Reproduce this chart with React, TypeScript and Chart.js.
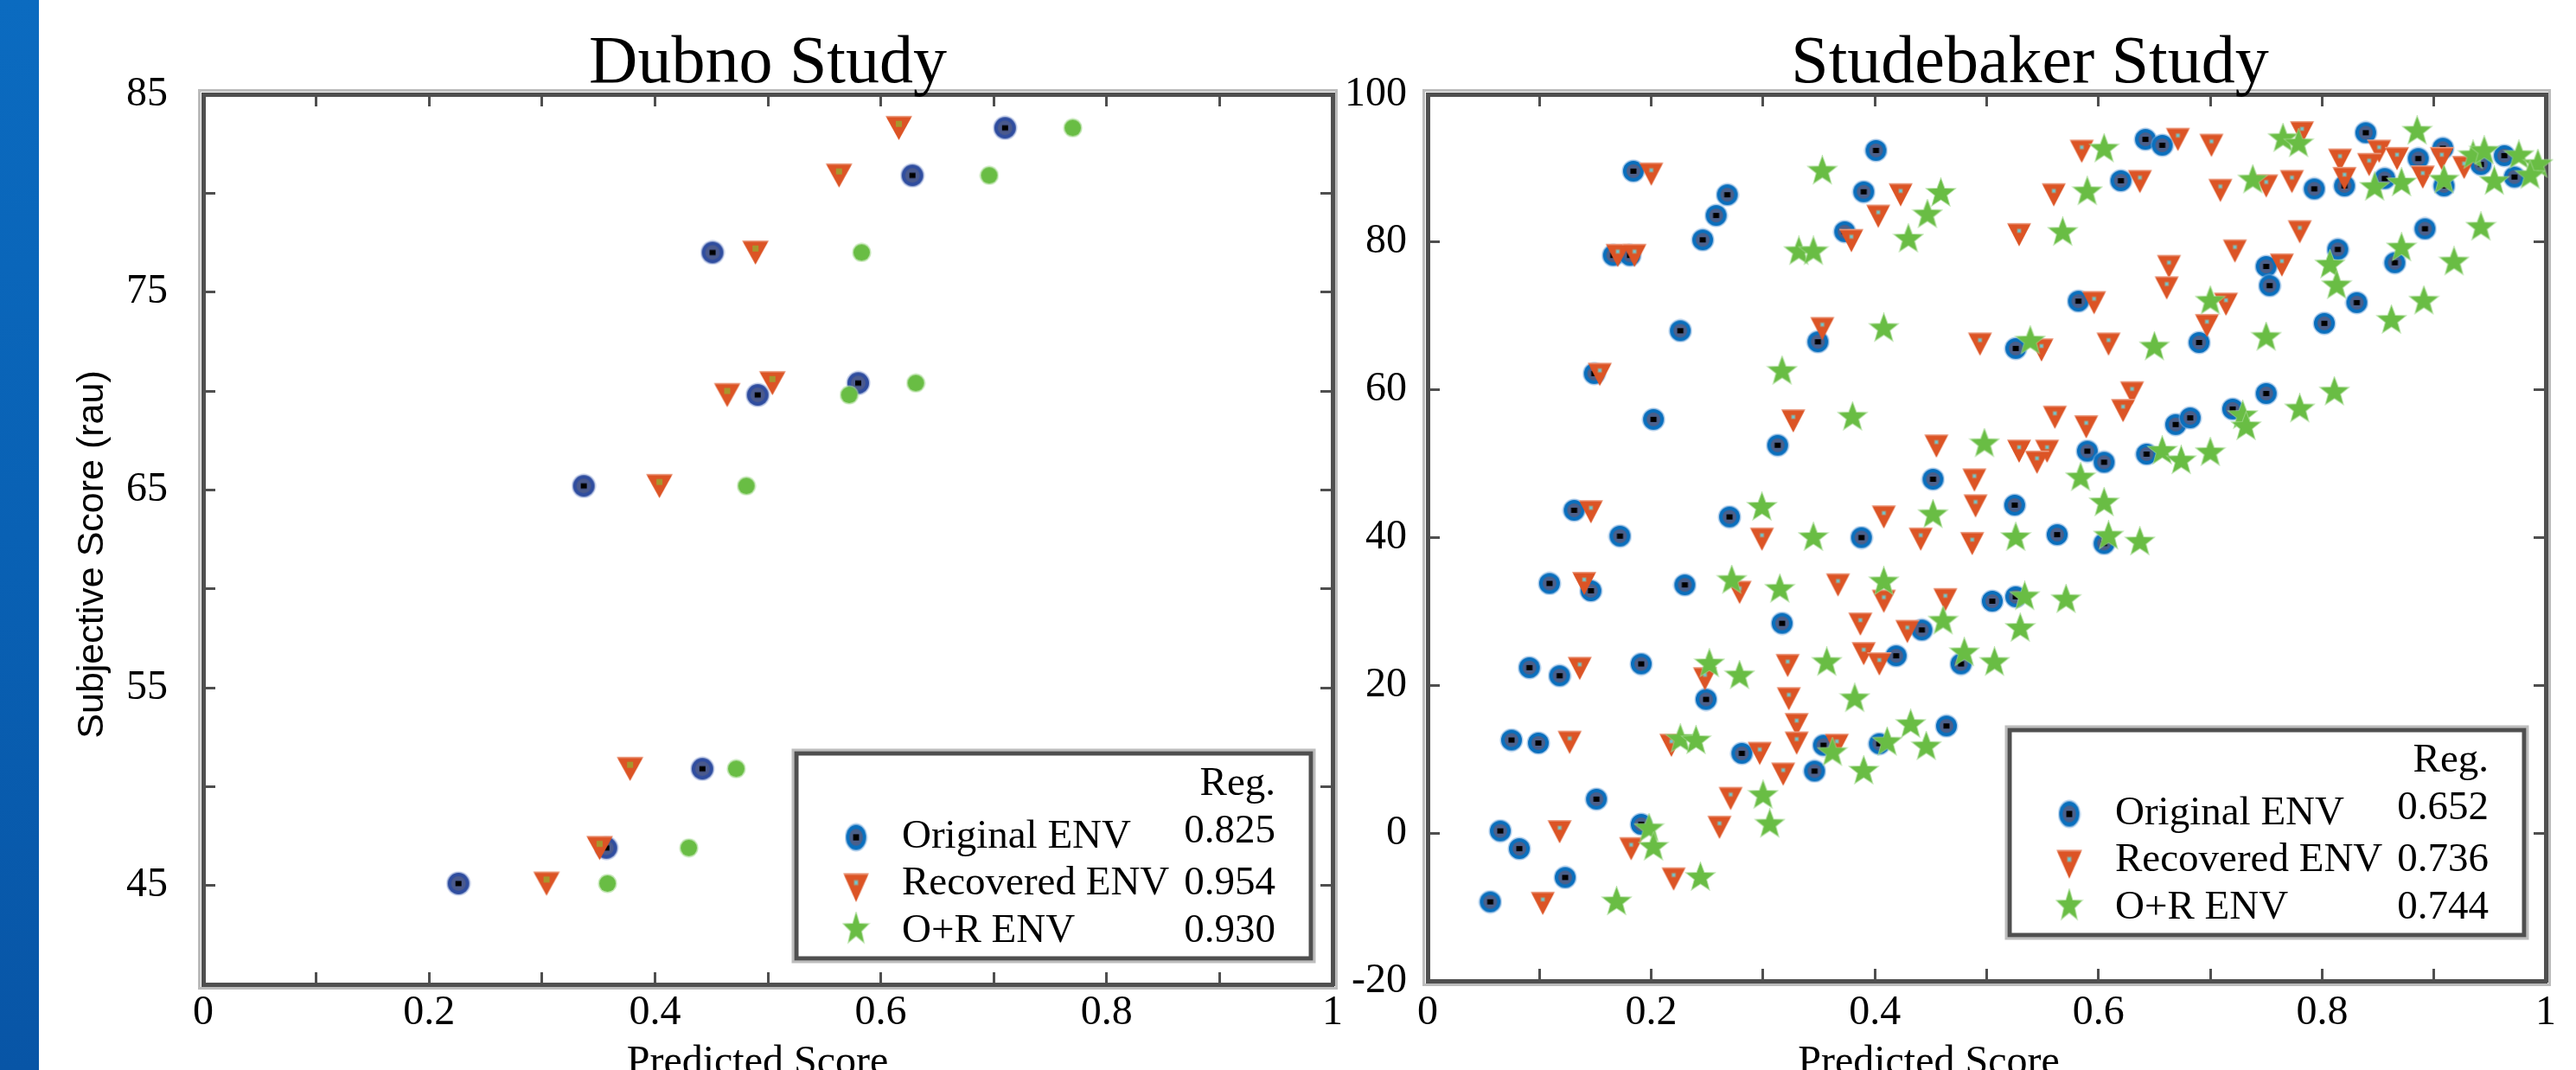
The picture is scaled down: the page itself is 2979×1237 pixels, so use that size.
import React, { useEffect, useRef } from 'react';
import { Chart, registerables } from 'chart.js';

Chart.register(...registerables);

type Pt = [number, number];

// ---------------- data ----------------
const seriesLabels = ['Original ENV', 'Recovered ENV', 'O+R ENV'];
const legendHeader = 'Reg.';
const xTickLabels = ['0', '0.2', '0.4', '0.6', '0.8', '1'];
const xAxisTitle = 'Predicted Score';
const yAxisTitle = 'Subjective Score (rau)';

const dubnoTitle = 'Dubno Study';
const dubnoYTickLabels = [45, 55, 65, 75, 85];
const dubnoReg = ['0.825', '0.954', '0.930'];
const dubnoOriginal: Pt[] = [
  [0.710, 83.3], [0.628, 80.9], [0.451, 77.0], [0.580, 70.4], [0.491, 69.8],
  [0.337, 65.2], [0.442, 50.9], [0.357, 46.9], [0.226, 45.1],
];
const dubnoRecovered: Pt[] = [
  [0.616, 83.3], [0.563, 80.9], [0.489, 77.0], [0.504, 70.4], [0.464, 69.8],
  [0.404, 65.2], [0.378, 50.9], [0.351, 46.9], [0.304, 45.1],
];
const dubnoCombined: Pt[] = [
  [0.770, 83.3], [0.696, 80.9], [0.583, 77.0], [0.631, 70.4], [0.572, 69.8],
  [0.481, 65.2], [0.472, 50.9], [0.430, 46.9], [0.358, 45.1],
];

const studeTitle = 'Studebaker Study';
const studeYTickLabels = [-20, 0, 20, 40, 60, 80, 100];
const studeReg = ['0.652', '0.736', '0.744'];
const studeOriginal: Pt[] = [
  [0.184, 89.6], [0.268, 86.4], [0.258, 83.6], [0.246, 80.3], [0.166, 78.2], [0.181, 78.2],
  [0.226, 68.0], [0.149, 62.2], [0.202, 56.0], [0.313, 52.5], [0.131, 43.7], [0.270, 42.8],
  [0.172, 40.2], [0.401, 92.4], [0.390, 86.8], [0.373, 81.4], [0.642, 93.9], [0.657, 93.1],
  [0.620, 88.3], [0.582, 72.0], [0.349, 66.5], [0.526, 65.6], [0.669, 55.3], [0.682, 56.2],
  [0.590, 51.7], [0.605, 50.2], [0.643, 51.3], [0.452, 47.9], [0.525, 44.4], [0.388, 40.0],
  [0.563, 40.4], [0.605, 39.2], [0.839, 94.8], [0.886, 91.3], [0.908, 92.7], [0.942, 90.5],
  [0.963, 91.7], [0.972, 88.8], [0.793, 87.2], [0.820, 87.6], [0.856, 88.6], [0.909, 87.6],
  [0.892, 81.8], [0.814, 79.0], [0.750, 76.7], [0.753, 74.1], [0.865, 77.2], [0.831, 71.8],
  [0.690, 66.4], [0.802, 69.0], [0.750, 59.5], [0.720, 57.4], [0.109, 33.8], [0.146, 32.8],
  [0.230, 33.6], [0.317, 28.4], [0.091, 22.4], [0.118, 21.3], [0.191, 22.9], [0.249, 18.1],
  [0.075, 12.6], [0.099, 12.2], [0.281, 10.8], [0.151, 4.6], [0.065, 0.3], [0.191, 1.2],
  [0.082, -2.1], [0.123, -6.0], [0.056, -9.3], [0.505, 31.4], [0.526, 32.0], [0.442, 27.5],
  [0.419, 24.0], [0.477, 22.9], [0.464, 14.5], [0.354, 11.9], [0.404, 12.1], [0.346, 8.4],
];
const studeRecovered: Pt[] = [
  [0.200, 89.2], [0.170, 78.2], [0.185, 78.2], [0.154, 62.1], [0.327, 55.8], [0.146, 43.5],
  [0.299, 39.8], [0.423, 86.4], [0.403, 83.5], [0.379, 80.2], [0.585, 92.3], [0.671, 93.9],
  [0.560, 86.4], [0.637, 88.2], [0.529, 81.0], [0.663, 76.7], [0.661, 73.8], [0.596, 71.8],
  [0.353, 68.3], [0.494, 66.2], [0.549, 65.4], [0.609, 66.2], [0.630, 59.6], [0.622, 57.2],
  [0.561, 56.3], [0.589, 55.0], [0.455, 52.4], [0.529, 51.7], [0.554, 51.7], [0.545, 50.2],
  [0.489, 47.8], [0.490, 44.3], [0.408, 42.8], [0.441, 39.8], [0.487, 39.2], [0.701, 93.1],
  [0.782, 94.8], [0.816, 91.1], [0.851, 92.3], [0.842, 90.5], [0.867, 91.3], [0.907, 91.3],
  [0.927, 90.1], [0.709, 87.0], [0.750, 87.6], [0.773, 88.2], [0.820, 88.6], [0.890, 88.8],
  [0.780, 81.4], [0.722, 78.8], [0.764, 76.9], [0.714, 71.6], [0.697, 68.7], [0.140, 33.8],
  [0.279, 32.6], [0.136, 22.3], [0.248, 20.9], [0.322, 22.7], [0.323, 18.2], [0.330, 14.7],
  [0.330, 12.2], [0.127, 12.3], [0.218, 11.9], [0.297, 10.8], [0.318, 8.0], [0.271, 4.7],
  [0.118, 0.2], [0.182, -2.1], [0.261, 0.8], [0.220, -6.2], [0.103, -9.5], [0.367, 33.6],
  [0.408, 31.4], [0.463, 31.6], [0.387, 28.3], [0.429, 27.3], [0.390, 24.3], [0.404, 22.9],
  [0.366, 11.9],
];
const studeCombined: Pt[] = [
  [0.332, 78.7], [0.345, 78.7], [0.317, 62.5], [0.299, 44.1], [0.345, 40.0], [0.353, 89.6],
  [0.459, 86.6], [0.447, 83.7], [0.430, 80.4], [0.605, 92.6], [0.590, 86.8], [0.568, 81.3],
  [0.408, 68.3], [0.539, 66.6], [0.650, 65.8], [0.380, 56.3], [0.498, 52.7], [0.657, 51.7],
  [0.674, 50.4], [0.700, 51.5], [0.584, 48.1], [0.605, 44.7], [0.452, 43.1], [0.526, 40.0],
  [0.609, 40.2], [0.637, 39.4], [0.765, 94.0], [0.779, 93.3], [0.885, 95.0], [0.935, 91.7],
  [0.945, 92.3], [0.976, 91.7], [0.993, 90.5], [0.986, 89.0], [0.954, 88.2], [0.738, 88.4],
  [0.847, 87.4], [0.871, 88.0], [0.909, 88.4], [0.942, 82.0], [0.871, 79.2], [0.807, 76.9],
  [0.918, 77.3], [0.813, 74.1], [0.700, 72.0], [0.891, 72.0], [0.862, 69.4], [0.750, 67.1],
  [0.811, 59.7], [0.729, 56.5], [0.732, 55.0], [0.780, 57.4], [0.272, 34.2], [0.315, 33.0],
  [0.252, 22.9], [0.279, 21.3], [0.226, 12.7], [0.240, 12.5], [0.300, 5.1], [0.198, 0.6],
  [0.202, -1.9], [0.306, 1.2], [0.244, -6.0], [0.169, -9.3], [0.408, 34.0], [0.534, 32.0],
  [0.571, 31.6], [0.461, 28.7], [0.530, 27.7], [0.357, 23.1], [0.480, 24.4], [0.507, 23.1],
  [0.382, 18.2], [0.432, 14.7], [0.362, 10.9], [0.411, 12.3], [0.446, 11.7], [0.390, 8.4],
];

// ---------------- styling ----------------
const SERIF = '"Liberation Serif", "Times New Roman", serif';
const SANS = '"Liberation Sans", Arial, sans-serif';
const FRAME = '#4f4f4f';
const PAGE_H = 1237;

function makeCircle(d: number, ring: string, inner: string, halo: string): HTMLCanvasElement {
  const s = Math.ceil(d + 4);
  const c = document.createElement('canvas');
  c.width = s;
  c.height = s;
  const g = c.getContext('2d') as CanvasRenderingContext2D;
  const m = s / 2;
  const disc = (r: number, col: string) => {
    g.fillStyle = col;
    g.beginPath();
    g.arc(m, m, r, 0, Math.PI * 2);
    g.fill();
  };
  disc(d / 2 + 1.5, halo);
  disc(d / 2, ring);
  disc(d / 2 - 4, inner);
  g.fillStyle = '#000';
  g.fillRect(m - 3.5, m - 3, 7, 6);
  return c;
}

function makeTriangle(w: number, h: number, fill: string, dot: string, core: string, dotSize: number): HTMLCanvasElement {
  const c = document.createElement('canvas');
  c.width = w + 2;
  c.height = h + 2;
  const g = c.getContext('2d') as CanvasRenderingContext2D;
  g.fillStyle = fill;
  g.beginPath();
  g.moveTo(1, 1);
  g.lineTo(w + 1, 1);
  g.lineTo(w / 2 + 1, h + 1);
  g.closePath();
  g.fill();
  g.fillStyle = 'rgba(255,255,255,0.45)';
  g.fillRect(1, 1, w, 1.5);
  const cx = w / 2 + 1;
  const cy = 1 + h / 3;
  g.fillStyle = dot;
  g.fillRect(cx - dotSize / 2, cy - dotSize / 2, dotSize, dotSize);
  g.fillStyle = core;
  g.fillRect(cx - 1.5, cy - 1.5, 3, 3);
  return c;
}

function makeStar(R: number, fill: string, halo: string): HTMLCanvasElement {
  const s = Math.ceil(2 * R + 4);
  const c = document.createElement('canvas');
  c.width = s;
  c.height = s;
  const g = c.getContext('2d') as CanvasRenderingContext2D;
  const m = s / 2;
  const r = R * 0.42;
  g.beginPath();
  for (let k = 0; k < 10; k++) {
    const a = -Math.PI / 2 + (k * Math.PI) / 5;
    const rad = k % 2 === 0 ? R : r;
    const px = m + rad * Math.cos(a);
    const py = m + rad * Math.sin(a);
    if (k === 0) g.moveTo(px, py);
    else g.lineTo(px, py);
  }
  g.closePath();
  g.strokeStyle = halo;
  g.lineWidth = 2;
  g.stroke();
  g.fillStyle = fill;
  g.fill();
  return c;
}

function makeDot(d: number, fill: string, halo: string): HTMLCanvasElement {
  const s = Math.ceil(d + 4);
  const c = document.createElement('canvas');
  c.width = s;
  c.height = s;
  const g = c.getContext('2d') as CanvasRenderingContext2D;
  const m = s / 2;
  g.fillStyle = halo;
  g.beginPath();
  g.arc(m, m, d / 2 + 1.5, 0, Math.PI * 2);
  g.fill();
  g.fillStyle = fill;
  g.beginPath();
  g.arc(m, m, d / 2, 0, Math.PI * 2);
  g.fill();
  return c;
}

interface PanelSpec {
  title: string;
  yMin: number;
  yMax: number;
  yStep: number;
  yLabels: number[];
  series: Pt[][];
  reg: string[];
  style: 'dubno' | 'stude';
  canvasLeft: number;
  canvasWidth: number;
  yAxisWidth: number;
  padRight: number;
  padTop: number;
  xAxisHeight: number;
  yLabelPad: number;
  xLabelPad: number;
  titleDx: number;
  xTitleDx: number;
  yTitle?: string;
  yTitlePos?: [number, number];
  legendRight: number;
  legendBottom: number;
}

const dubnoSpec: PanelSpec = {
  title: dubnoTitle,
  yMin: 40,
  yMax: 85,
  yStep: 5,
  yLabels: dubnoYTickLabels,
  series: [dubnoOriginal, dubnoRecovered, dubnoCombined],
  reg: dubnoReg,
  style: 'dubno',
  canvasLeft: 45,
  canvasWidth: 1545,
  yAxisWidth: 190,
  padRight: 49,
  padTop: 109,
  xAxisHeight: 99,
  yLabelPad: 55,
  xLabelPad: 19,
  titleDx: 0,
  xTitleDx: -12,
  yTitle: yAxisTitle,
  yTitlePos: [62, 641],
  legendRight: 25,
  legendBottom: 30,
};

const studeSpec: PanelSpec = {
  title: studeTitle,
  yMin: -20,
  yMax: 100,
  yStep: 20,
  yLabels: studeYTickLabels,
  series: [studeOriginal, studeRecovered, studeCombined],
  reg: studeReg,
  style: 'stude',
  canvasLeft: 1540,
  canvasWidth: 1439,
  yAxisWidth: 111,
  padRight: 23,
  padTop: 109,
  xAxisHeight: 103,
  yLabelPad: 38,
  xLabelPad: 23,
  titleDx: 50,
  xTitleDx: -67,
  legendRight: 25,
  legendBottom: 53,
};

function buildConfig(spec: PanelSpec): any {
  const studeMarkers = [
    makeCircle(24, '#0a6fbd', '#4b5f8a', 'rgba(120,170,220,0.6)'),
    makeTriangle(28, 27, '#dc5425', '#a6977a', '#6ccad8', 5),
    makeStar(16.5, '#69bd44', 'rgba(160,215,140,0.8)'),
  ];
  const dubnoMarkers = [
    makeCircle(25, '#2f4d9f', '#4a5a8e', 'rgba(140,160,210,0.6)'),
    makeTriangle(31, 28, '#dc5425', '#a8962e', '#a8962e', 7),
    makeDot(19, '#69bd44', 'rgba(170,220,150,0.7)'),
  ];
  const markers = spec.style === 'dubno' ? dubnoMarkers : studeMarkers;
  const legendMarkers = studeMarkers;
  const legendSizes: [number, number][] = [[27, 34], [32, 36], [33, 41]];

  const tickFont = { family: SERIF, size: 48 };
  const gridOpts = {
    display: true,
    drawOnChartArea: false,
    drawTicks: true,
    tickLength: -14,
    tickWidth: 3,
    tickColor: FRAME,
    color: FRAME,
    lineWidth: 3,
  };
  const borderOpts = { display: true, color: FRAME, width: 5 };

  const decor = {
    id: 'decor_' + spec.style,
    beforeDraw(chart: any) {
      const { ctx, chartArea: a } = chart;
      ctx.save();
      ctx.strokeStyle = '#bcbcbc';
      ctx.lineWidth = 3;
      ctx.strokeRect(a.left - 4.5, a.top - 4.5, a.right - a.left + 9, a.bottom - a.top + 9);
      ctx.restore();
    },
    afterDraw(chart: any) {
      const { ctx, chartArea: a } = chart;
      const cx = (a.left + a.right) / 2;
      ctx.save();
      ctx.fillStyle = '#000';
      // panel title
      ctx.font = `78px ${SERIF}`;
      ctx.textAlign = 'center';
      ctx.textBaseline = 'alphabetic';
      ctx.fillText(spec.title, cx + spec.titleDx, 95);
      // x axis title
      ctx.font = `48px ${SERIF}`;
      ctx.fillText(xAxisTitle, cx + spec.xTitleDx, 1242);
      // y axis title
      if (spec.yTitle && spec.yTitlePos) {
        ctx.save();
        ctx.translate(spec.yTitlePos[0], spec.yTitlePos[1]);
        ctx.rotate(-Math.PI / 2);
        ctx.font = `43px ${SANS}`;
        ctx.textAlign = 'center';
        ctx.textBaseline = 'middle';
        ctx.fillText(spec.yTitle, 0, 0);
        ctx.restore();
      }
      // legend box
      const W = 595;
      const H = 237;
      const L = a.right - spec.legendRight - W;
      const T = a.bottom - spec.legendBottom - H;
      ctx.fillStyle = '#fff';
      ctx.fillRect(L, T, W, H);
      ctx.strokeStyle = '#bdbdbd';
      ctx.lineWidth = 3;
      ctx.strokeRect(L - 4, T - 4, W + 8, H + 8);
      ctx.strokeStyle = FRAME;
      ctx.lineWidth = 5;
      ctx.strokeRect(L, T, W, H);
      ctx.fillStyle = '#000';
      ctx.font = `47px ${SERIF}`;
      ctx.textBaseline = 'alphabetic';
      ctx.textAlign = 'right';
      ctx.fillText(legendHeader, L + 554, T + 48);
      const markerY = [97, 155, 203];
      const labelY = [109, 163, 218];
      const valueY = [103, 163, 218];
      chart.data.datasets.forEach((ds: any, i: number) => {
        const [w, h] = legendSizes[i];
        ctx.drawImage(legendMarkers[i], L + 69 - w / 2, T + markerY[i] - h / 2, w, h);
        ctx.textAlign = 'left';
        ctx.fillText(ds.label, L + 122, T + labelY[i]);
        ctx.textAlign = 'right';
        ctx.fillText(spec.reg[i], L + 554, T + valueY[i]);
      });
      ctx.restore();
    },
  };

  return {
    type: 'scatter',
    data: {
      datasets: spec.series.map((pts, i) => ({
        label: seriesLabels[i],
        data: pts.map(([x, y]) => ({ x, y })),
        pointStyle: markers[i],
        pointRadius: 12,
        pointHoverRadius: 12,
        showLine: false,
        clip: false,
        order: 3 - i,
      })),
    },
    options: {
      responsive: false,
      maintainAspectRatio: false,
      devicePixelRatio: 1,
      animation: false,
      events: [],
      layout: { padding: { left: 0, right: spec.padRight, top: spec.padTop, bottom: 0 } },
      plugins: {
        legend: { display: false },
        tooltip: { enabled: false },
        title: { display: false },
      },
      scales: {
        x: {
          type: 'linear',
          position: 'bottom',
          min: 0,
          max: 1,
          ticks: {
            stepSize: 0.1,
            autoSkip: false,
            maxRotation: 0,
            minRotation: 0,
            padding: spec.xLabelPad,
            color: '#000',
            font: tickFont,
            callback: (v: any) => {
              const k = Math.round(Number(v) * 10);
              return k % 2 === 0 ? xTickLabels[k / 2] : '';
            },
          },
          grid: gridOpts,
          border: borderOpts,
          afterFit: (s: any) => {
            s.height = spec.xAxisHeight;
          },
        },
        x2: {
          type: 'linear',
          position: 'top',
          min: 0,
          max: 1,
          ticks: { display: false, stepSize: 0.1, autoSkip: false },
          grid: gridOpts,
          border: borderOpts,
          afterFit: (s: any) => {
            s.height = 0;
          },
        },
        y: {
          type: 'linear',
          position: 'left',
          min: spec.yMin,
          max: spec.yMax,
          ticks: {
            stepSize: spec.yStep,
            autoSkip: false,
            padding: spec.yLabelPad,
            color: '#000',
            font: tickFont,
            callback: (v: any) => {
              const n = Math.round(Number(v));
              return spec.yLabels.includes(n) ? String(n) : '';
            },
          },
          grid: gridOpts,
          border: borderOpts,
          afterFit: (s: any) => {
            s.width = spec.yAxisWidth;
          },
        },
        y2: {
          type: 'linear',
          position: 'right',
          min: spec.yMin,
          max: spec.yMax,
          ticks: { display: false, stepSize: spec.yStep, autoSkip: false },
          grid: gridOpts,
          border: borderOpts,
          afterFit: (s: any) => {
            s.width = 0;
          },
        },
      },
    },
    plugins: [decor],
  };
}

function Panel({ spec }: { spec: PanelSpec }) {
  const ref = useRef<HTMLCanvasElement | null>(null);
  useEffect(() => {
    if (!ref.current) return;
    const chart = new Chart(ref.current, buildConfig(spec));
    return () => chart.destroy();
  }, [spec]);
  return (
    <canvas
      ref={ref}
      width={spec.canvasWidth}
      height={PAGE_H}
      style={{
        position: 'absolute',
        left: spec.canvasLeft,
        top: 0,
        width: spec.canvasWidth,
        height: PAGE_H,
        display: 'block',
      }}
    />
  );
}

export default function App() {
  return (
    <div
      style={{
        position: 'absolute',
        left: 0,
        top: 0,
        width: 2979,
        height: PAGE_H,
        background: '#ffffff',
        overflow: 'hidden',
      }}
    >
      <div
        style={{
          position: 'absolute',
          left: 0,
          top: 0,
          width: 45,
          height: PAGE_H,
          background: 'linear-gradient(180deg, #0b6bc0 0%, #0961b4 50%, #0855a6 100%)',
        }}
      />
      <Panel spec={dubnoSpec} />
      <Panel spec={studeSpec} />
    </div>
  );
}
